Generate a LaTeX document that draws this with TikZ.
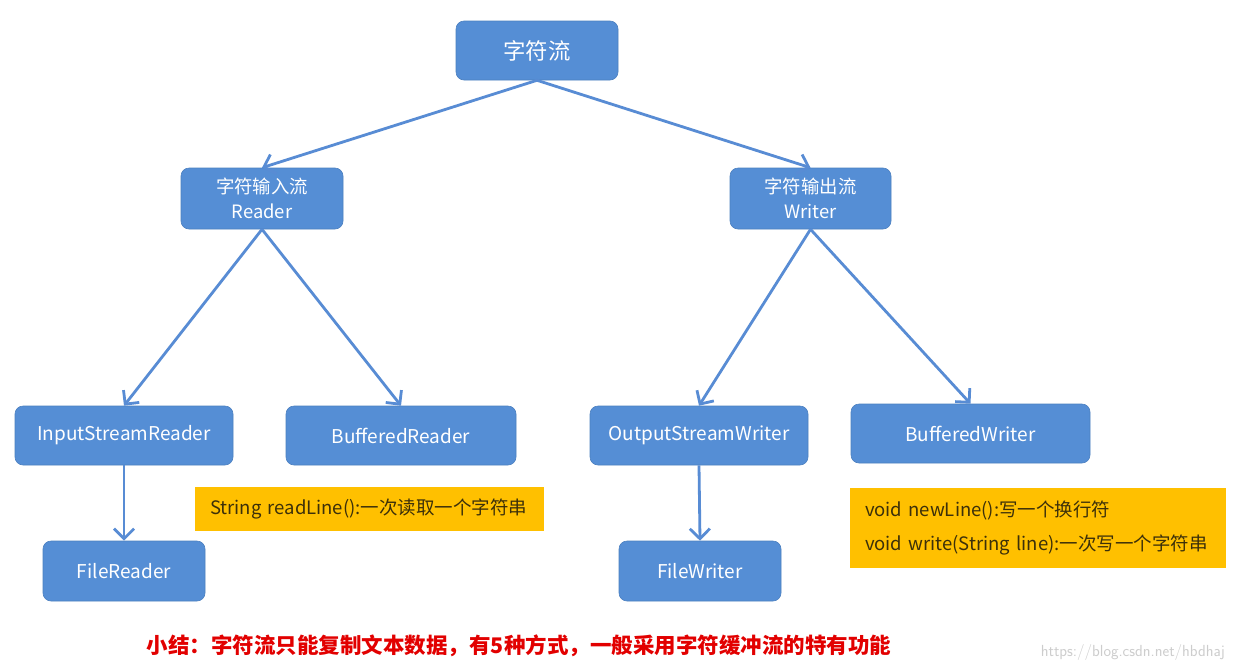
\documentclass[tikz,border=0pt]{standalone}
\usepackage{fontspec}
\setmainfont{Noto Sans CJK SC}
\newfontfamily\cjk{Noto Sans CJK SC}
\usetikzlibrary{arrows.meta}
\definecolor{nodeblue}{RGB}{85,142,213}
\definecolor{edgeblue}{RGB}{88,140,212}
\definecolor{noteyellow}{RGB}{255,192,0}
\definecolor{notetext}{RGB}{60,48,10}
\definecolor{summaryred}{RGB}{226,0,0}
\definecolor{wmgray}{RGB}{205,205,205}
\tikzset{
  bluebox/.style={draw=nodeblue!90!black, line width=0.6pt, fill=nodeblue, rounded corners=8pt,
    text=white, inner sep=0pt, align=center, font=\cjk\fontsize{19}{26}\selectfont},
  notebox/.style={fill=noteyellow, inner sep=0pt, text=notetext, align=left,
    font=\cjk\fontsize{18.5}{34}\selectfont},
  link/.style={draw=edgeblue, line width=2.8pt, -{Straight Barb[length=10pt,width=20pt,line width=2.8pt]}}
}
\begin{document}
\begin{tikzpicture}[x=1pt,y=-1pt]
\useasboundingbox[fill=white] (0,0) rectangle (1233,670);
\node[bluebox, minimum width=162pt, minimum height=59pt, font=\cjk\fontsize{22.4}{26}\selectfont] (root) at (537,50.5) {字符流};
\node[bluebox, minimum width=162pt, minimum height=61pt, font=\cjk\fontsize{18.4}{25}\selectfont] (reader) at (262,198.5) {字符输入流\\Reader};
\node[bluebox, minimum width=161pt, minimum height=61pt, font=\cjk\fontsize{18.4}{25}\selectfont] (writer) at (810.5,198.5) {字符输出流\\Writer};
\node[bluebox, minimum width=218pt, minimum height=59pt] (isr) at (124,435.5) {InputStreamReader};
\node[bluebox, minimum width=230pt, minimum height=59pt] (br) at (401,435.5) {BufferedReader};
\node[bluebox, minimum width=218pt, minimum height=59pt] (osw) at (699,435.5) {OutputStreamWriter};
\node[bluebox, minimum width=239pt, minimum height=59pt] (bw) at (970.5,433.5) {BufferedWriter};
\node[bluebox, minimum width=162pt, minimum height=60pt] (fr) at (124,571) {FileReader};
\node[bluebox, minimum width=162pt, minimum height=60pt] (fw) at (700,571) {FileWriter};
\node[notebox, minimum width=349pt, minimum height=44pt, text width=319pt] (note1) at (369.5,509) {String readLine():一次读取一个字符串};
\node[notebox, minimum width=376pt, minimum height=80pt, text width=346pt] (note2) at (1038,528) {void newLine():写一个换行符\\void write(String line):一次写一个字符串};
\node[text=summaryred, font=\cjk\bfseries\fontsize{21.5}{24}\selectfont, inner sep=0pt] (summary) at (519,646) {小结：字符流只能复制文本数据，有5种方式，一般采用字符缓冲流的特有功能};
\node[text=wmgray, font=\fontfamily{lmss}\fontsize{16}{18}\selectfont, inner sep=0pt, anchor=east] (wm) at (1225,652) {https://blog.csdn.net/hbdhaj};
\draw[link] (root.south) -- (reader.north);
\draw[link] (root.south) -- (writer.north);
\draw[link] (reader.south) -- (isr.north);
\draw[link] (reader.south) -- (br.north);
\draw[link] (writer.south) -- (osw.north);
\draw[link] (writer.south) -- (bw.north);
\draw[link] (isr.south) -- (fr.north);
\draw[link] (osw.south) -- (fw.north);
\end{tikzpicture}
\end{document}
